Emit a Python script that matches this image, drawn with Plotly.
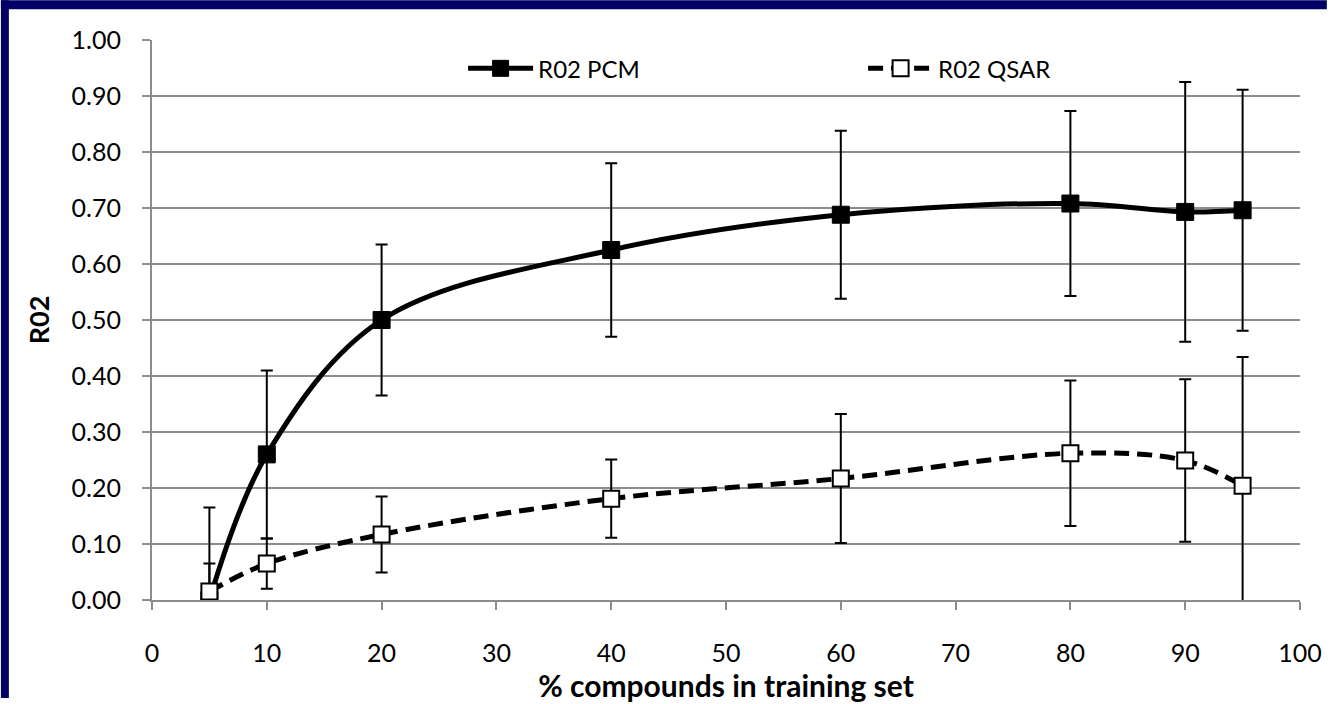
import plotly.graph_objects as go

x_pct = [5, 10, 20, 40, 60, 80, 90, 95]
pcm = [0.0, 0.26, 0.50, 0.625, 0.688, 0.708, 0.693, 0.696]
pcm_err = [0.165, 0.15, 0.135, 0.155, 0.15, 0.165, 0.232, 0.215]
qsar = [0.015, 0.065, 0.117, 0.181, 0.217, 0.262, 0.249, 0.204]
qsar_err = [0.05, 0.045, 0.068, 0.07, 0.115, 0.13, 0.145, 0.23]

W, H = 1334, 704
L, R, T, B = 152, 27, 40, 99
PW, PH = W - L - R, H - T - B
NAVY = "#020066"
GRID = "#8c8c8c"
FONT = "Lato, Carlito, 'Liberation Sans', sans-serif"

fig = go.Figure()
fig.add_trace(go.Scatter(
    x=x_pct, y=pcm, name="R02 PCM", mode="lines+markers",
    line=dict(color="black", width=5, shape="spline", smoothing=1.0),
    marker=dict(symbol="square", size=17, color="black", line=dict(color="black", width=1)),
    error_y=dict(type="data", array=pcm_err, visible=True, color="black", thickness=2, width=6),
    cliponaxis=True,
))
fig.add_trace(go.Scatter(
    x=x_pct, y=qsar, name="R02 QSAR", mode="lines+markers",
    line=dict(color="black", width=5, shape="spline", smoothing=1.0, dash="15px,8px"),
    marker=dict(symbol="square", size=16, color="white", line=dict(color="black", width=2)),
    error_y=dict(type="data", array=qsar_err, visible=True, color="black", thickness=2, width=6),
    cliponaxis=True,
))

def px(xp):
    return (xp - L) / PW

def py(yp):
    return 1 - (yp - T) / PH

shapes = [
    dict(type="rect", xref="paper", yref="paper", x0=px(0), x1=px(8), y0=py(H), y1=py(0),
         fillcolor=NAVY, line=dict(width=0), layer="above"),
    dict(type="rect", xref="paper", yref="paper", x0=px(0), x1=px(W), y0=py(9), y1=py(0),
         fillcolor=NAVY, line=dict(width=0), layer="above"),
]

fig.update_layout(
    width=W, height=H,
    margin=dict(l=L, r=R, t=T, b=B),
    paper_bgcolor="white", plot_bgcolor="white",
    font=dict(family=FONT, size=24, color="black"),
    shapes=shapes,
    showlegend=True,
    legend=dict(orientation="h", x=px(465), y=py(69), xanchor="left", yanchor="middle",
                itemwidth=65, entrywidth=320, entrywidthmode="pixels", font=dict(size=24),
                bgcolor="rgba(0,0,0,0)"),
    xaxis=dict(range=[0, 100], dtick=10, tick0=0, showgrid=False, zeroline=False,
               showline=True, linecolor=GRID, linewidth=2,
               ticks="outside", ticklen=8, tickcolor=GRID, tickwidth=2,
               tickfont=dict(size=25), ticklabelstandoff=22, ticklabeloverflow="allow",
               title=dict(text="<b>% compounds in training set</b>", font=dict(size=30), standoff=4)),
    yaxis=dict(range=[0, 1.0], dtick=0.1, tickformat=".2f", showgrid=True,
               gridcolor=GRID, gridwidth=2, zeroline=False,
               showline=True, linecolor=GRID, linewidth=2,
               ticks="outside", ticklen=8, tickcolor=GRID, tickwidth=2,
               tickfont=dict(size=25), ticklabelstandoff=16,
               title=dict(text="<b>R02</b>", font=dict(size=27), standoff=14)),
)

fig.write_html("out.html")
